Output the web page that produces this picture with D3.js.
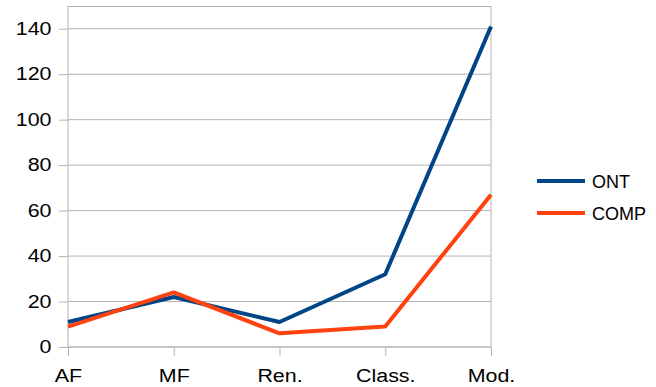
<!DOCTYPE html>
<html>
<head>
<meta charset="utf-8">
<script src="https://cdn.jsdelivr.net/npm/d3@7"></script>
<style>
body { margin: 0; background: #fff; }
text { font-family: "Liberation Sans", Arial, sans-serif; }
</style>
</head>
<body>
<script>
// chart data
var categories = ["AF", "MF", "Ren.", "Class.", "Mod."];
var ontValues = [11, 22, 11, 32, 141];
var compValues = [9, 24, 6, 9, 67];
var yTicks = [0, 20, 40, 60, 80, 100, 120, 140];
var seriesNames = ["ONT", "COMP"];
var seriesColors = ["#004586", "#ff420e"];

var margin = {top: 6, right: 165, bottom: 40, left: 68},
    width = 656 - margin.left - margin.right,
    height = 387 - margin.top - margin.bottom;

// axis labels in the original are a bit wider than normal
var stretch = 1.19;

var svg = d3.select("body").append("svg")
    .attr("width", 656)
    .attr("height", 387)
  .append("g")
    .attr("transform", "translate(" + margin.left + "," + margin.top + ")");

var x = d3.scalePoint().domain(categories).range([0, width]).padding(0);
var y = d3.scaleLinear().domain([0, 150]).range([height, 0]);

// gridlines
svg.append("g").selectAll("line")
    .data(yTicks)
  .enter().append("line")
    .attr("x1", 0).attr("x2", width)
    .attr("y1", function(d) { return y(d); })
    .attr("y2", function(d) { return y(d); })
    .attr("stroke", "#b3b3b3");

// frame
svg.append("line").attr("x1", 0).attr("x2", width).attr("y1", 0.5).attr("y2", 0.5).attr("stroke", "#b3b3b3");
svg.append("line").attr("x1", width).attr("x2", width).attr("y1", 0).attr("y2", height).attr("stroke", "#b3b3b3");

// y axis
var yAxis = svg.append("g")
    .call(d3.axisLeft(y).tickValues(yTicks).tickSize(9));
yAxis.select(".domain").attr("stroke", "#b3b3b3").attr("d", "M0,0V" + height);
yAxis.selectAll(".tick line").attr("stroke", "#b3b3b3");
yAxis.selectAll("text")
    .attr("font-size", "18px").attr("fill", "#000")
    .attr("x", -16.5 / stretch)
    .attr("transform", "scale(" + stretch + ",1)");

// x axis
var xAxis = svg.append("g")
    .attr("transform", "translate(0," + height + ")")
    .call(d3.axisBottom(x).tickSize(9).tickPadding(13));
xAxis.select(".domain").attr("stroke", "#b3b3b3").attr("d", "M0,0H" + width);
xAxis.selectAll(".tick line").attr("stroke", "#b3b3b3");
xAxis.selectAll("text")
    .attr("font-size", "18px").attr("fill", "#000")
    .attr("transform", "scale(" + stretch + ",1)");

// lines
var valueline = d3.line()
    .x(function(d, i) { return x(categories[i]); })
    .y(function(d) { return y(d); });

[ontValues, compValues].forEach(function(vals, i) {
  svg.append("path")
      .datum(vals)
      .attr("fill", "none")
      .attr("stroke", seriesColors[i])
      .attr("stroke-width", 4)
      .attr("stroke-linejoin", "round")
      .attr("d", valueline);
});

// legend
var legend = d3.select("svg").append("g")
    .attr("transform", "translate(537,181)");
seriesNames.forEach(function(name, i) {
  var g = legend.append("g").attr("transform", "translate(0," + (i * 32) + ")");
  g.append("line").attr("x1", 0).attr("x2", 48).attr("y1", 0).attr("y2", 0)
      .attr("stroke", seriesColors[i]).attr("stroke-width", 4);
  g.append("text").attr("x", 55).attr("y", 6.5)
      .attr("font-size", "18px").attr("fill", "#000").text(name);
});
</script>
</body>
</html>
